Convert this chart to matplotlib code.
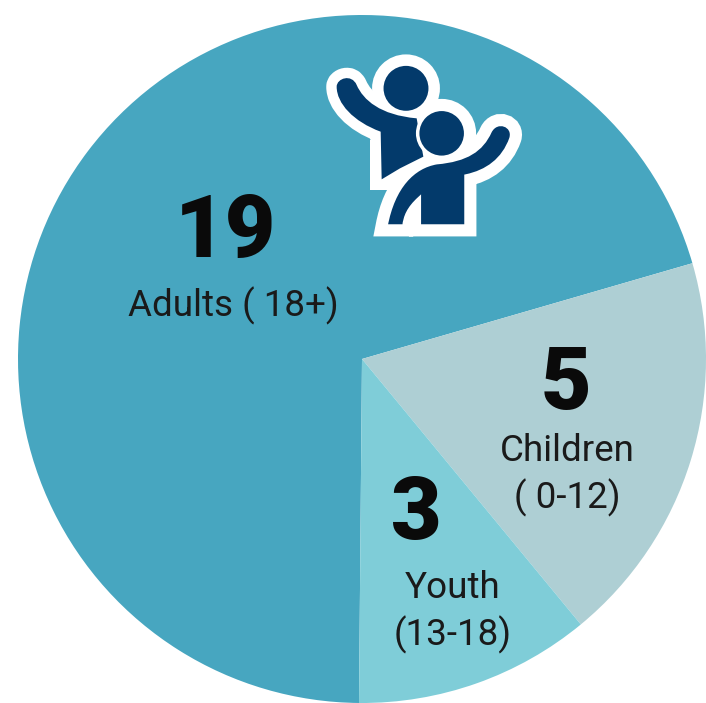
import numpy as np
import matplotlib
matplotlib.use("Agg")
import matplotlib.pyplot as plt
from matplotlib.patches import Circle, PathPatch
from matplotlib.path import Path

values = [19, 5, 3]
counts = ["19", "5", "3"]
labels = ["Adults ( 18+)", "Children\n( 0-12)", "Youth\n(13-18)"]
colors = ["#47a6c0", "#aecfd4", "#7fcdd8"]

W, H = 706, 703
NAVY = "#033a6b"
FONT = "Roboto"
fig = plt.figure(figsize=(W / 100, H / 100), dpi=100)
ax = fig.add_axes([0, 0, 1, 1])
ax.set_xlim(0, W); ax.set_ylim(H, 0); ax.axis("off")

# circle centre about (362, 359), radius 344
ax_pie = fig.add_axes([(362 - 344) / W, 1 - (359 + 344) / H, 688 / W, 688 / H])
ax_pie.pie(values, colors=colors, startangle=269.5, counterclock=False, radius=1,
           wedgeprops={"lw": 0})
ax_pie.set_xlim(-1, 1); ax_pie.set_ylim(-1, 1)
ax_pie.set_zorder(0); ax.set_zorder(1)

for s, x, y in zip(counts, (225, 566, 416), (233, 385, 516)):
    ax.text(x, y, s, fontsize=63, fontweight="black", family=FONT, ha="center", va="center", color="#0a0a0a")
for s, x, y in zip(labels, (233, 567, 453), (306, 475, 612)):
    ax.text(x, y, s, fontsize=26.5, family=FONT, ha="center", va="center", color="#1a1a1a", linespacing=1.3)


def z(x, y):
    # icon traced in crop coordinates, crop is 3x from (310, 40)
    return (310 + x / 3, 40 + y / 3)


def make_path(segs):
    verts, codes = [z(*segs[0])], [Path.MOVETO]
    for s in segs[1:]:
        if len(s) == 2:
            verts.append(z(*s)); codes.append(Path.LINETO)
        else:
            verts += [z(s[0], s[1]), z(s[2], s[3]), z(s[4], s[5])]
            codes += [Path.CURVE4] * 3
    verts.append(verts[0]); codes.append(Path.CLOSEPOLY)
    return Path(verts, codes)


back = make_path([(80, 140), (80, 115, 125, 100, 140, 135), (160, 180, 210, 225, 320, 235),
                  (340, 350), (270, 385), (215, 418), (212, 275), (130, 245, 80, 190, 80, 140)])
front = make_path([(228, 558), (250, 440, 310, 380, 380, 368), (470, 360, 515, 330, 540, 275),
                   (560, 235, 615, 255, 603, 295), (580, 360, 530, 395, 468, 408), (468, 558),
                   (328, 558), (328, 475), (295, 505, 285, 530, 282, 558)])
head_back = (z(288, 145), 23.5)
head_front = (z(395, 280), 24)


def shape(p, **kw):
    ax.add_patch(PathPatch(p, **kw))


# white sticker outline behind everything
halo = dict(fc="white", ec="white", lw=15, zorder=2)
shape(back, joinstyle="round", **halo)
shape(front, joinstyle="miter", **halo)
ax.add_patch(Circle(head_back[0], head_back[1], **halo))
ax.add_patch(Circle(head_front[0], head_front[1], **halo))
# square foot of the back figure's outline
shape(make_path([(180, 300), (300, 300), (300, 450), (180, 450)]), fc="white", ec="none", zorder=2)

thin = dict(fc=NAVY, ec="white", lw=2.5, zorder=3)
shape(back, fc=NAVY, ec="none", zorder=3)
ax.add_patch(Circle(head_back[0], head_back[1], fc=NAVY, ec="white", lw=1.5, zorder=4))
shape(front, fc=NAVY, ec="white", lw=2.5, zorder=5, joinstyle="miter")
ax.add_patch(Circle(head_front[0], head_front[1], zorder=6, fc=NAVY, ec="white", lw=2.5))

fig.savefig("out.png", dpi=100)
